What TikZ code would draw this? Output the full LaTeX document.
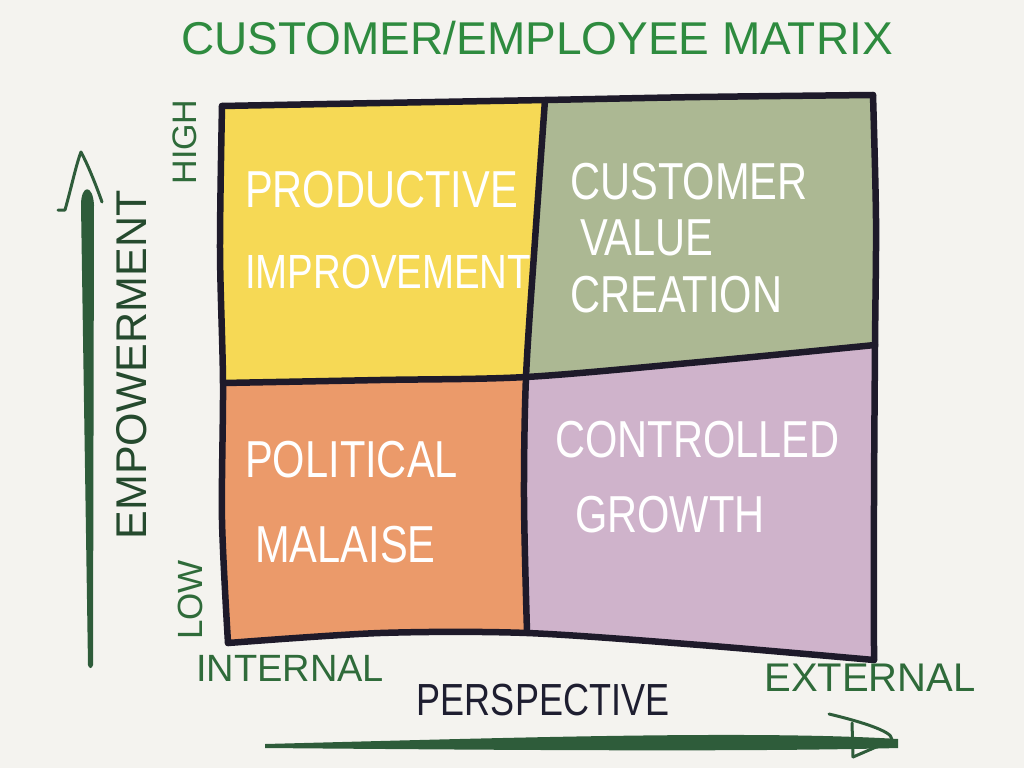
\documentclass[tikz,border=0pt]{standalone}
\usepackage{fontspec}
\setmainfont{Liberation Sans}
\newfontfamily\handN[FakeStretch=0.8]{Liberation Sans}
\newfontfamily\handC[FakeStretch=0.8]{Liberation Sans}
\definecolor{paper}{HTML}{F4F3EF}
\definecolor{qyellow}{HTML}{F6D955}
\definecolor{qgreen}{HTML}{ACB893}
\definecolor{qorange}{HTML}{EB9A6A}
\definecolor{qlav}{HTML}{CFB3CB}
\definecolor{ink}{HTML}{1E1A2A}
\definecolor{titlegreen}{HTML}{2E8B3F}
\definecolor{labgreen}{HTML}{2F6B3A}
\definecolor{arrowgreen}{HTML}{2E5C3A}
\definecolor{navy}{HTML}{1E1E30}
\tikzset{
  gridline/.style={ink, line width=6.5pt, line cap=round, line join=round},
  quadtext/.style={text=white, anchor=west, inner sep=0pt, font=\handN\fontsize{52}{52}\selectfont},
  axislab/.style={text=labgreen, inner sep=0pt},
  arrowhand/.style={arrowgreen, line width=3pt, line cap=round, line join=round}
}
\begin{document}
\begin{tikzpicture}[x=1pt,y=-1pt]
\fill[paper] (0,0) rectangle (1024,768);
\useasboundingbox (0,0) rectangle (1024,768);

% quadrant fills
\fill[qyellow] (222,106) -- (380,103) -- (545,100) -- (535,240) -- (526,377) -- (380,380) -- (223,383) -- (220,250) -- cycle;
\fill[qgreen] (545,100) -- (700,97) -- (873,95) -- (876,220) -- (875,345) -- (700,362) -- (526,377) -- (535,240) -- cycle;
\fill[qorange] (223,383) -- (380,380) -- (526,377) -- (524,500) -- (527,632) -- (380,633) -- (228,643) -- (222,520) -- cycle;
\fill[qlav] (526,377) -- (700,362) -- (875,345) -- (874,500) -- (874,660) -- (700,645) -- (527,632) -- (524,500) -- cycle;

% grid lines
\draw[gridline] plot[smooth] coordinates {(222,106) (380,103) (545,100) (700,97) (873,95)};
\draw[gridline] plot[smooth] coordinates {(222,106) (220,250) (223,383) (222,520) (228,643)};
\draw[gridline] plot[smooth] coordinates {(873,95) (876,220) (875,345) (874,500) (874,660)};
\draw[gridline] plot[smooth] coordinates {(545,100) (535,240) (526,377) (524,500) (527,632)};
\draw[gridline] plot[smooth] coordinates {(223,383) (380,380) (526,377) (700,362) (875,345)};
\draw[gridline] plot[smooth] coordinates {(228,643) (380,633) (527,633) (700,645) (874,660)};

% quadrant labels
\node[quadtext] (prod) at (245,190) {PRODUCTIVE};
\node[quadtext, font=\handN\fontsize{48}{48}\selectfont] (impr) at (245,272) {IMPROVEMENT};
\node[quadtext] (cust) at (570,182) {CUSTOMER};
\node[quadtext] (valu) at (580,238) {VALUE};
\node[quadtext] (crea) at (570,295) {CREATION};
\node[quadtext] (poli) at (245,460) {POLITICAL};
\node[quadtext] (mala) at (255,545) {MALAISE};
\node[quadtext] (cont) at (555,440) {CONTROLLED};
\node[quadtext] (grow) at (575,515) {GROWTH};

% title
\node[text=titlegreen, inner sep=0pt, font=\fontsize{46}{46}\selectfont] (title) at (537,38) {CUSTOMER/EMPLOYEE MATRIX};

% axis labels
\node[axislab, rotate=90, font=\fontsize{34}{34}\selectfont] (high) at (185,142) {HIGH};
\node[axislab, rotate=90, font=\fontsize{35}{35}\selectfont] (low) at (190,600) {LOW};
\node[axislab, font=\fontsize{38}{38}\selectfont] (int) at (290,668) {INTERNAL};
\node[axislab, font=\fontsize{40}{40}\selectfont] (ext) at (870,678) {EXTERNAL};
\node[text=arrowgreen!80!black, inner sep=0pt, rotate=90, font=\fontsize{43}{43}\selectfont] (emp) at (132,365) {EMPOWERMENT};
\node[text=navy, inner sep=0pt, font=\handC\fontsize{45}{45}\selectfont] (persp) at (543,700) {PERSPECTIVE};

% vertical arrow
\fill[arrowgreen] (81,205) .. controls (81,184) and (93,184) .. (94,205) -- (93,665) .. controls (92,669) and (89,669) .. (88,665) -- cycle;
\draw[arrowhand] (58,210) -- (65,210) .. controls (72,185) and (76,165) .. (81,152) .. controls (88,165) and (96,185) .. (102,202);

% horizontal arrow
\fill[arrowgreen] (265,744) .. controls (500,738) and (750,730) .. (898,739) -- (898,748) .. controls (750,752) and (500,750) .. (265,748) -- cycle;
\draw[arrowhand] (829,714) .. controls (875,725) and (898,735) .. (890,741) -- (853,757);
\draw[arrowhand] (852,723) -- (853,757);
\end{tikzpicture}
\end{document}
